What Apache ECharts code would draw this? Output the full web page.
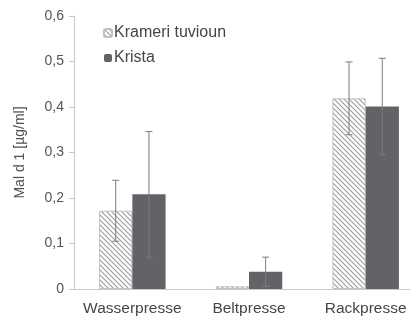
<!DOCTYPE html>
<html>
<head>
<meta charset="utf-8">
<script src="https://cdn.jsdelivr.net/npm/echarts@6/dist/echarts.min.js"></script>
<style>
  html, body { margin: 0; padding: 0; background: #fff; }
  #chart { width: 410px; height: 320px; }
</style>
</head>
<body>
<div id="chart"></div>
<script>
// Mal d 1 concentration per press method, mean with standard deviation
const categories = ['Wasserpresse', 'Beltpresse', 'Rackpresse'];
const seriesNames = ['Krameri tuvioun', 'Krista'];
const kramerMeans = [0.172, 0.006, 0.419];
const kramerErrors = [0.067, 0, 0.080];
const kristaMeans = [0.208, 0.038, 0.401];
const kristaErrors = [0.138, 0.032, 0.106];
const yTicks = [0, 0.1, 0.2, 0.3, 0.4, 0.5, 0.6];

const FONT = '"Liberation Sans", Arial, sans-serif';
const BAR_FRACTION = 0.285;

// Diagonal hatch tile for the first series
function hatchPattern() {
  const s = 5;
  const c = document.createElement('canvas');
  c.width = s; c.height = s;
  const ctx = c.getContext('2d');
  ctx.fillStyle = '#ffffff';
  ctx.fillRect(0, 0, s, s);
  ctx.strokeStyle = '#9c9c9c';
  ctx.lineWidth = 1.1;
  ctx.beginPath();
  ctx.moveTo(-1, -1); ctx.lineTo(s + 1, s + 1);
  ctx.moveTo(-1, s - 1); ctx.lineTo(1, s + 1);
  ctx.moveTo(s - 1, -1); ctx.lineTo(s + 1, 1);
  ctx.stroke();
  return c;
}

function errorSeries(means, errors, side) {
  return {
    type: 'custom',
    silent: true,
    z: 5,
    data: means.map((m, i) => [i, m, errors[i]]),
    renderItem: function (params, api) {
      const err = api.value(2);
      if (!err) return null;
      const idx = api.value(0);
      const mean = api.value(1);
      const band = api.size([1, 0])[0];
      const dx = side * band * BAR_FRACTION / 2;
      const top = api.coord([idx, mean + err]);
      const bot = api.coord([idx, mean - err]);
      const x = top[0] + dx;
      const cap = 3.5;
      const style = { stroke: '#7c7c7c', lineWidth: 1 };
      return {
        type: 'group',
        children: [
          { type: 'line', shape: { x1: x, y1: top[1], x2: x, y2: bot[1] }, style: style },
          { type: 'line', shape: { x1: x - cap, y1: top[1], x2: x + cap, y2: top[1] }, style: style },
          { type: 'line', shape: { x1: x - cap, y1: bot[1], x2: x + cap, y2: bot[1] }, style: style }
        ]
      };
    }
  };
}

const chart = echarts.init(document.getElementById('chart'), null, { renderer: 'canvas' });

chart.setOption({
  animation: false,
  backgroundColor: '#ffffff',
  grid: { left: 74, right: -14, top: 16, bottom: 31, outerBoundsMode: 'none' },
  legend: {
    orient: 'vertical',
    left: 98,
    top: 20,
    itemWidth: 8,
    itemHeight: 8,
    itemGap: 9,
    data: seriesNames,
    textStyle: { fontFamily: FONT, fontSize: 16, color: '#454545', lineHeight: 16, padding: [0, 0, 0, -3] }
  },
  xAxis: {
    type: 'category',
    data: categories,
    axisLine: { lineStyle: { color: '#c8c8c8', width: 1 } },
    axisTick: { show: false },
    axisLabel: { fontFamily: FONT, fontSize: 15.5, color: '#454545', margin: 12, interval: 0 }
  },
  yAxis: {
    type: 'value',
    min: 0,
    max: 0.6,
    interval: 0.1,
    name: 'Mal d 1 [µg/ml]',
    nameLocation: 'middle',
    nameRotate: 90,
    nameGap: 47,
    nameTextStyle: { fontFamily: FONT, fontSize: 14, color: '#505050' },
    splitLine: { show: false },
    axisLine: { show: true, lineStyle: { color: '#c8c8c8', width: 1 } },
    axisTick: { show: true, length: 5, lineStyle: { color: '#c8c8c8' } },
    axisLabel: {
      fontFamily: FONT, fontSize: 14, color: '#555555', margin: 10,
      formatter: v => {
        const t = yTicks.find(k => Math.abs(k - v) < 1e-9);
        return t === 0 ? '0' : (t !== undefined ? t : v).toFixed(1).replace('.', ',');
      }
    }
  },
  series: [
    {
      name: seriesNames[0],
      type: 'bar',
      data: kramerMeans,
      barWidth: (BAR_FRACTION * 100) + '%',
      barGap: '0%',
      itemStyle: {
        color: { image: hatchPattern(), repeat: 'repeat' },
        borderColor: '#c2c2c2',
        borderWidth: 1
      }
    },
    {
      name: seriesNames[1],
      type: 'bar',
      data: kristaMeans,
      barWidth: (BAR_FRACTION * 100) + '%',
      barGap: '0%',
      itemStyle: { color: '#636367' }
    },
    errorSeries(kramerMeans, kramerErrors, -1),
    errorSeries(kristaMeans, kristaErrors, 1)
  ]
});
</script>
</body>
</html>
